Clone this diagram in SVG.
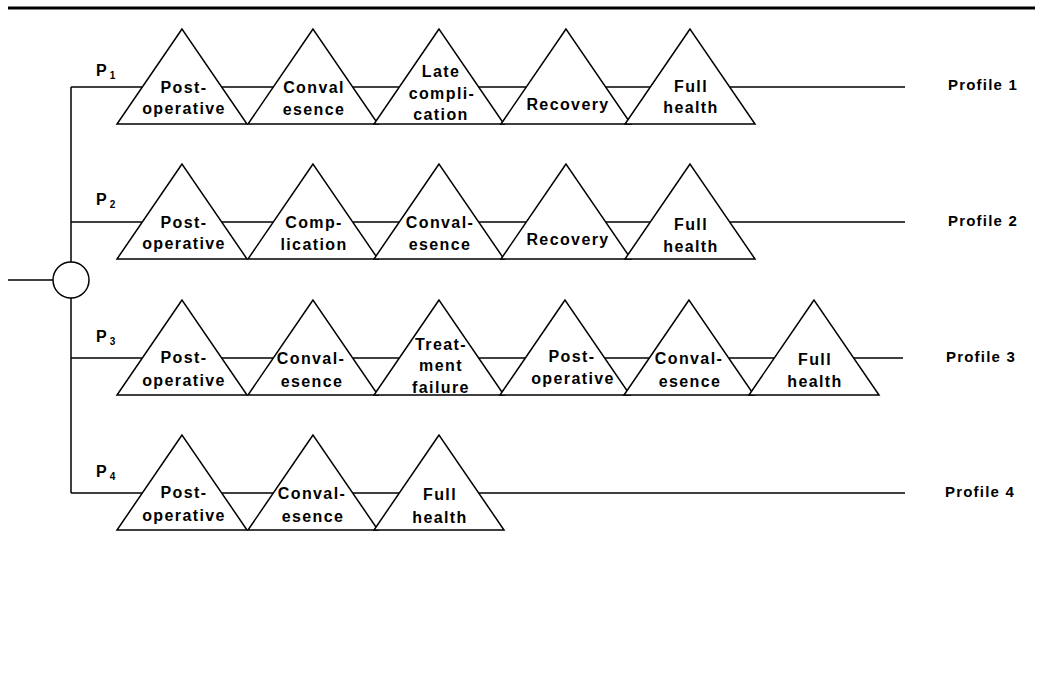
<svg xmlns="http://www.w3.org/2000/svg" width="1042" height="695" viewBox="0 0 1042 695">
  <style>
    .ln { stroke: #000; stroke-width: 1.5; fill: none; }
    .tri { fill: #fff; stroke: #000; stroke-width: 1.5; stroke-linejoin: miter; }
    .lbl { font-family: "Liberation Sans", Arial, sans-serif; font-weight: bold; font-size: 16px; letter-spacing: 1.4px; text-anchor: middle; fill: #000; }
    .prof { font-family: "Liberation Sans", Arial, sans-serif; font-weight: bold; font-size: 15px; letter-spacing: 1.2px; fill: #000; }
    .p { font-family: "Liberation Sans", Arial, sans-serif; font-weight: bold; font-size: 16px; fill: #000; }
    .sub { font-size: 10px; }
  </style>
  <defs>
    <!-- health-state triangle, apex at origin -->
    <polygon id="state" class="tri" points="0,0 -65,95 65,95"/>
  </defs>

  <rect width="1042" height="695" fill="#fff"/>

  <!-- top rule -->
  <line x1="8" y1="8" x2="1035" y2="8" stroke="#000" stroke-width="3"/>

  <!-- connectors: chance node branches and profile lines -->
  <g id="connectors">
    <line class="ln" x1="8" y1="280" x2="53" y2="280"/>
    <line class="ln" x1="71" y1="87" x2="71" y2="262"/>
    <line class="ln" x1="71" y1="298" x2="71" y2="493"/>
    <line class="ln" x1="71" y1="87" x2="905" y2="87"/>
    <line class="ln" x1="71" y1="222" x2="905" y2="222"/>
    <line class="ln" x1="71" y1="358" x2="903" y2="358"/>
    <line class="ln" x1="71" y1="493" x2="905" y2="493"/>
  </g>

  <g id="chance-node">
    <circle cx="71" cy="280" r="18" fill="#fff" stroke="#000" stroke-width="1.5"/>
  </g>

  <!-- branch probabilities -->
  <g id="probabilities">
    <text class="p" x="96" y="76">P<tspan class="sub" dx="3" dy="3">1</tspan></text>
    <text class="p" x="96" y="205">P<tspan class="sub" dx="3" dy="3">2</tspan></text>
    <text class="p" x="96" y="342">P<tspan class="sub" dx="3" dy="3">3</tspan></text>
    <text class="p" x="96" y="477">P<tspan class="sub" dx="3" dy="3">4</tspan></text>
  </g>

  <!-- Profile 1 (line y=87) -->
  <g id="r1s1"><use href="#state" x="182" y="29"/><text class="lbl" x="184" y="93">Post-</text><text class="lbl" x="184" y="114">operative</text></g>
  <g id="r1s2"><use href="#state" x="313" y="29"/><text class="lbl" x="314" y="93">Conval</text><text class="lbl" x="314" y="115">esence</text></g>
  <g id="r1s3"><use href="#state" x="439" y="29"/><text class="lbl" x="441" y="77">Late</text><text class="lbl" x="442" y="99">compli-</text><text class="lbl" x="441" y="120">cation</text></g>
  <g id="r1s4"><use href="#state" x="566" y="29"/><text class="lbl" x="568" y="110">Recovery</text></g>
  <g id="r1s5"><use href="#state" x="690" y="29"/><text class="lbl" x="691" y="92">Full</text><text class="lbl" x="691" y="113">health</text></g>
  <g id="profile1"><text class="prof" x="948" y="90">Profile 1</text></g>

  <!-- Profile 2 (line y=222) -->
  <g id="r2s1"><use href="#state" x="182" y="164"/><text class="lbl" x="184" y="228">Post-</text><text class="lbl" x="184" y="249">operative</text></g>
  <g id="r2s2"><use href="#state" x="313" y="164"/><text class="lbl" x="314" y="228">Comp-</text><text class="lbl" x="314" y="250">lication</text></g>
  <g id="r2s3"><use href="#state" x="439" y="164"/><text class="lbl" x="440" y="228">Conval-</text><text class="lbl" x="440" y="250">esence</text></g>
  <g id="r2s4"><use href="#state" x="566" y="164"/><text class="lbl" x="568" y="245">Recovery</text></g>
  <g id="r2s5"><use href="#state" x="690" y="164"/><text class="lbl" x="691" y="230">Full</text><text class="lbl" x="691" y="252">health</text></g>
  <g id="profile2"><text class="prof" x="948" y="226">Profile 2</text></g>

  <!-- Profile 3 (line y=358) -->
  <g id="r3s1"><use href="#state" x="182" y="300"/><text class="lbl" x="184" y="363">Post-</text><text class="lbl" x="184" y="386">operative</text></g>
  <g id="r3s2"><use href="#state" x="313" y="300"/><text class="lbl" x="311" y="364">Conval-</text><text class="lbl" x="312" y="387">esence</text></g>
  <g id="r3s3"><use href="#state" x="439" y="300"/><text class="lbl" x="441" y="350">Treat-</text><text class="lbl" x="441" y="371">ment</text><text class="lbl" x="441" y="393">failure</text></g>
  <g id="r3s4"><use href="#state" x="565" y="300"/><text class="lbl" x="572" y="362">Post-</text><text class="lbl" x="573" y="384">operative</text></g>
  <g id="r3s5"><use href="#state" x="689" y="300"/><text class="lbl" x="689" y="364">Conval-</text><text class="lbl" x="690" y="387">esence</text></g>
  <g id="r3s6"><use href="#state" x="814" y="300"/><text class="lbl" x="815" y="365">Full</text><text class="lbl" x="815" y="387">health</text></g>
  <g id="profile3"><text class="prof" x="946" y="362">Profile 3</text></g>

  <!-- Profile 4 (line y=493) -->
  <g id="r4s1"><use href="#state" x="182" y="435"/><text class="lbl" x="184" y="498">Post-</text><text class="lbl" x="184" y="521">operative</text></g>
  <g id="r4s2"><use href="#state" x="313" y="435"/><text class="lbl" x="312" y="499">Conval-</text><text class="lbl" x="313" y="522">esence</text></g>
  <g id="r4s3"><use href="#state" x="439" y="435"/><text class="lbl" x="440" y="500">Full</text><text class="lbl" x="440" y="523">health</text></g>
  <g id="profile4"><text class="prof" x="945" y="497">Profile 4</text></g>
</svg>
